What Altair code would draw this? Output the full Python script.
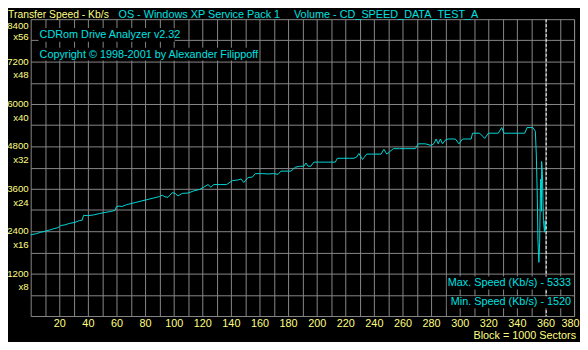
import altair as alt
import pandas as pd

# ---------------- data ----------------
blocks = [0, 4, 7, 10, 13, 16, 19, 21, 24, 27, 31, 34, 36, 37, 40, 44, 48, 52, 56, 59,
          60, 62, 64, 67, 73, 80, 82, 86, 90, 92, 94, 96, 99, 101, 103, 106, 110, 114, 118,
          121, 124, 126, 128, 133, 137, 141, 145, 147, 149, 152, 155, 157, 162, 166, 170,
          173, 175, 182, 185, 188, 191, 192.5, 194, 196, 198, 202, 206, 210, 213, 214.5,
          219, 223, 226, 228, 229.5, 232, 235, 240, 245, 247, 249, 251, 253.6, 258, 262,
          266, 269, 271, 276, 280, 282, 283.5, 285, 286.5, 288, 290, 292, 297, 299.5, 302,
          305, 308, 309, 314, 317.5, 320, 324, 327, 329.4, 331, 336, 341, 345.5, 347.1,
          351.2, 352.9, 353.6, 354.3, 354.7, 355.4, 355.9, 356.6, 357.2, 357.3, 357.9,
          358.2, 358.6, 359.3, 359.8, 360.0]
speeds = [2300, 2330, 2370, 2400, 2430, 2470, 2500, 2560, 2580, 2620, 2650, 2700, 2710,
          2850, 2840, 2860, 2900, 2930, 2960, 2990, 3100, 3110, 3100, 3150, 3210, 3280,
          3300, 3340, 3380, 3420, 3370, 3360, 3490, 3470, 3400, 3470, 3480, 3540, 3580,
          3645, 3720, 3645, 3720, 3720, 3720, 3830, 3850, 3880, 3780, 3920, 3930, 4030,
          4030, 4020, 4030, 4010, 4100, 4100, 4210, 4236, 4240, 4330, 4240, 4240, 4355,
          4355, 4355, 4355, 4355, 4464, 4464, 4464, 4464, 4500, 4600, 4430, 4582, 4582,
          4582, 4718, 4582, 4650, 4736, 4736, 4736, 4736, 4736, 4873, 4873, 4827, 4880,
          5009, 4873, 5009, 4873, 4982, 5009, 5009, 4873, 5009, 5009, 5009, 5173, 5173,
          5027, 5173, 5173, 5173, 5333, 5173, 5173, 5173, 5173, 5333, 5333, 5230, 4554,
          3327, 2154, 1520, 2073, 3873, 2964, 4373, 4009, 3327, 2700, 2373, 2700, 2430]

y_label_values = [1200, 2400, 3600, 4800, 6000, 7200]
y_label_mults = ["x8", "x16", "x24", "x32", "x40", "x48"]
y_top_value = [8400]
y_top_mult = ["x56"]
x_grid_values = list(range(10, 390, 10))
y_grid_values = list(range(600, 8400, 600))
end_block = [360.5]

header_left = "Transfer Speed - Kb/s"
header_os = "OS - Windows XP Service Pack 1"
header_volume = "Volume - CD_SPEED_DATA_TEST_A"
title_app = "CDRom Drive Analyzer v2.32"
title_copy = "Copyright \u00a9 1998-2001 by Alexander Filippoff"
max_text = "Max. Speed (Kb/s) - 5333"
min_text = "Min.  Speed (Kb/s) - 1520"
block_text = "Block = 1000 Sectors"

# ---------------- styles ----------------
W, H = 551, 301
FONT = "Liberation Sans"
FS = 11
YELLOW = "#FFFF80"
CYAN = "#00E0E0"
LINE = "#00D8D8"
GRID = "#888888"

xscale = alt.Scale(domain=[0, 380], nice=False, zero=False)
yscale = alt.Scale(domain=[0, 8400], nice=False, zero=False)

x_axis = alt.Axis(values=x_grid_values,
                  labelExpr="datum.value % 20 == 0 ? datum.label : ''",
                  grid=True, gridColor=GRID, gridOpacity=1, gridWidth=1,
                  domain=False, ticks=False, labelColor=YELLOW, labelFont=FONT,
                  labelFontSize=FS, labelPadding=2, labelFlush=True,
                  labelFlushOffset=5, labelOverlap=False, labelBound=False, title=None)
y_axis = alt.Axis(values=y_grid_values, labels=False, grid=True, gridColor=GRID,
                  gridOpacity=1, gridWidth=1, domain=False, ticks=False, title=None)

df = pd.DataFrame({"block": blocks, "speed": speeds})

line = alt.Chart(df).mark_line(color=LINE, strokeWidth=1, interpolate="linear").encode(
    x=alt.X("block:Q", scale=xscale, axis=x_axis),
    y=alt.Y("speed:Q", scale=yscale, axis=y_axis),
)

end_rule = alt.Chart(pd.DataFrame({"end": end_block})).mark_rule(
    color="white", strokeDash=[3, 2], strokeWidth=1
).encode(x=alt.X("end:Q", scale=xscale, axis=x_axis))

ylab = pd.DataFrame({"v": y_label_values, "num": [str(v) for v in y_label_values],
                     "mult": y_label_mults})
ytop = pd.DataFrame({"v": y_top_value, "num": [str(v) for v in y_top_value],
                     "mult": y_top_mult})


def ylabels(data, field, dy):
    return alt.Chart(data).mark_text(
        align="right", baseline="middle", font=FONT, fontSize=9.8, color=YELLOW, dy=dy
    ).encode(x=alt.value(-2), y=alt.Y("v:Q", scale=yscale, axis=y_axis),
             text=f"{field}:N")


def label(text, x, y, color, align="left", baseline="middle", size=FS):
    return alt.Chart(pd.DataFrame({"t": [text]})).mark_text(
        align=align, baseline=baseline, font=FONT, fontSize=size, color=color
    ).encode(x=alt.value(x), y=alt.value(y), text="t:N")


def box(x1, x2, y1, y2):
    return alt.Chart(pd.DataFrame({"b": [0]})).mark_rect(color="black").encode(
        x=alt.value(x1), x2=alt.value(x2), y=alt.value(y1), y2=alt.value(y2))


layers = [
    line,
    end_rule,
    ylabels(ylab, "num", 0),
    ylabels(ylab, "mult", 14),
    ylabels(ytop, "num", 6.5),
    ylabels(ytop, "mult", 18),
    box(8, 146, 9, 23),
    box(8, 231, 29, 42),
    box(422, 549, 261, 274),
    box(422, 549, 281, 293),
    label(title_app, 9, 16.5, CYAN),
    label(title_copy, 9, 36, CYAN),
    label(max_text, 548, 267.5, CYAN, align="right"),
    label(min_text, 548, 287, CYAN, align="right"),
    label(header_left, -23, -1.5, YELLOW, baseline="alphabetic", size=10.5),
    label(header_os, 89, -1.5, CYAN, baseline="alphabetic"),
    label(header_volume, 267, -1.5, CYAN, baseline="alphabetic"),
    label(block_text, 553, 324, YELLOW, align="right", baseline="alphabetic"),
]

chart = alt.layer(*layers).properties(
    width=W, height=H,
    padding={"left": 23, "top": 9, "right": 6, "bottom": 24},
    autosize=alt.AutoSizeParams(type="none"),
    background="black",
).configure_view(stroke=GRID, strokeWidth=1)

chart.save("out.html", embed_options={"renderer": "svg", "actions": False})
